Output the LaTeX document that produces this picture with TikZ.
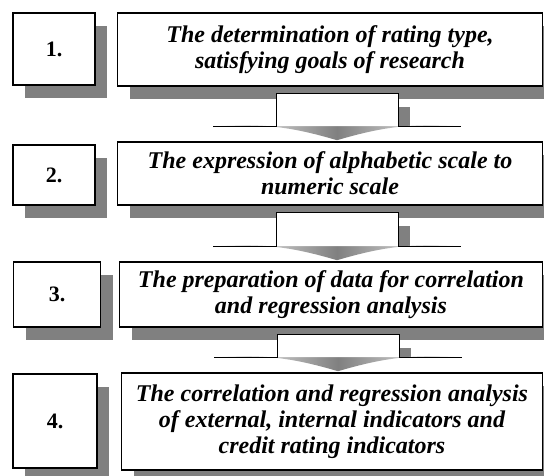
\documentclass[tikz,border=0pt]{standalone}
\usepackage{fontspec}
\setmainfont{Liberation Serif}
\usetikzlibrary{calc,shadows}
\definecolor{shadowgray}{RGB}{128,128,128}
\tikzset{
  boxshadow/.style={drop shadow={shadow xshift=12pt, shadow yshift=-13pt, fill=shadowgray, opacity=1}},
  numbox/.style={draw, line width=1.6pt, fill=white, inner sep=0pt, boxshadow,
    font=\fontsize{22}{24}\selectfont\bfseries},
  textbox/.style={draw, line width=1.6pt, fill=white, inner sep=0pt, align=center, boxshadow,
    font=\fontsize{24}{26}\selectfont\bfseries\itshape},
  flowhead/.style={left color=white, right color=white, middle color=shadowgray},
}
\newcommand{\flowarrow}[2]{%
  \path ($(#1.south)+(7,7)$) coordinate (a1) ($(a1 |- #2.north)+(0,-15)$) coordinate (a2);
  \fill[shadowgray] ($(a1)+(-49,13)$) rectangle ($(a2)+(73,0)$);
  \shade[flowhead] ($(a2)+(-124,0)$) -- ($(a2)+(124,0)$) to[bend right=10] ($(a2)+(0,14)$) to[bend right=10] cycle;
  \draw[fill=white, line width=0.9pt] ($(a2)+(-124,0)$) -- ($(a2)+(-61,0)$) -- ($(a1)+(-61,0)$)
    -- ($(a1)+(61,0)$) -- ($(a2)+(61,0)$) -- ($(a2)+(124,0)$);
}
\begin{document}
\begin{tikzpicture}[x=1pt, y=-1pt]
  \useasboundingbox[fill=white] (0,0) rectangle (544,475);

  \begin{scope}[every node/.style={numbox}]
    \node[minimum width=82pt, minimum height=72pt] (n1) at (54,49) {1.};
    \node[minimum width=82pt, minimum height=60pt] (n2) at (54,175) {2.};
    \node[minimum width=87pt, minimum height=65pt] (n3) at (57,294.5) {3.};
    \node[minimum width=84pt, minimum height=94pt] (n4) at (55,421) {4.};
  \end{scope}

  \begin{scope}[every node/.style={textbox}]
    \node[minimum width=425pt, minimum height=73pt] (t1) at (330,49.5)
      {The determination of rating type,\\ satisfying goals of research};
    \node[minimum width=425pt, minimum height=63pt] (t2) at (330,173.5)
      {The expression of alphabetic scale to\\ numeric scale};
    \node[minimum width=423pt, minimum height=65pt] (t3) at (331,294.5)
      {The preparation of data for correlation\\ and regression analysis};
    \node[minimum width=421pt, minimum height=97pt] (t4) at (332,421.5)
      {The correlation and regression analysis\\ of external, internal indicators and\\ credit rating indicators};
  \end{scope}

  \flowarrow{t1}{t2}
  \flowarrow{t2}{t3}
  \flowarrow{t3}{t4}
\end{tikzpicture}
\end{document}
